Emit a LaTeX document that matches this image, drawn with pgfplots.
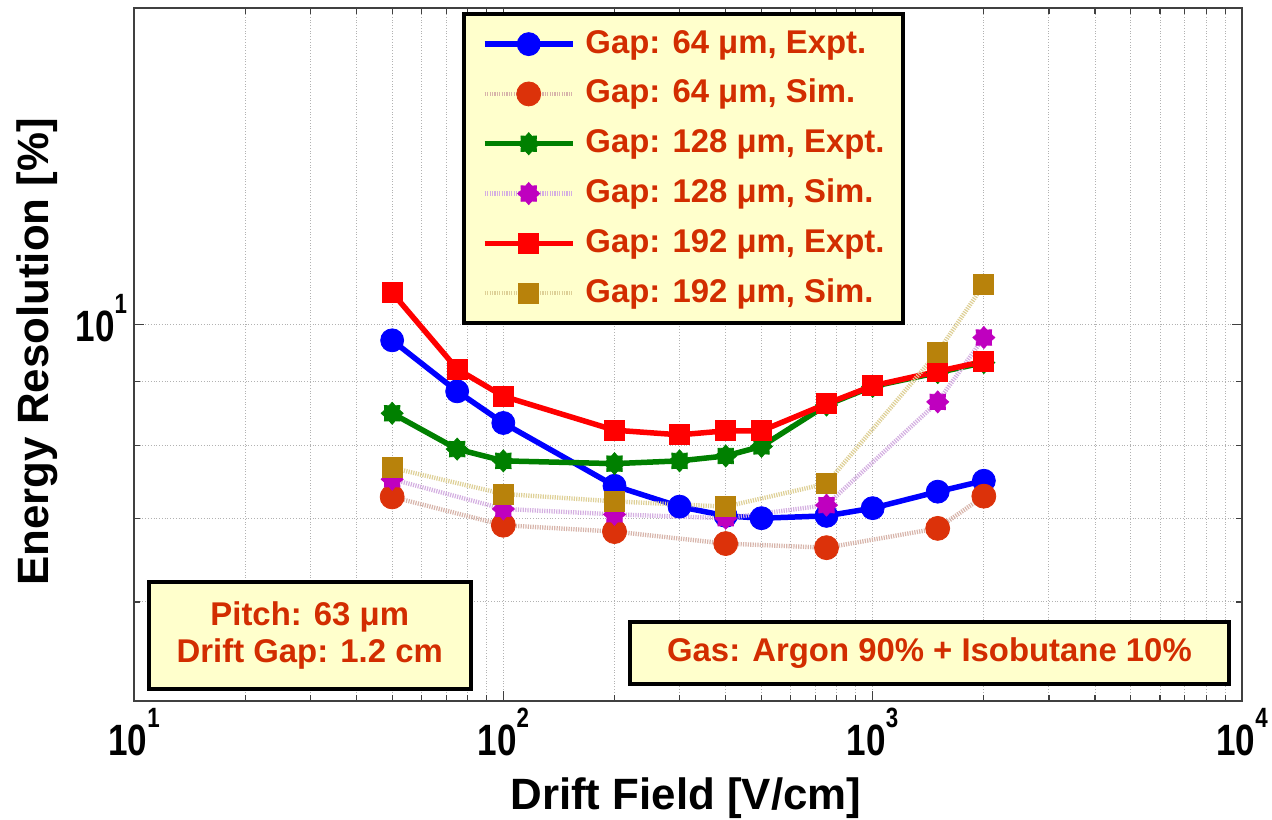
\documentclass[border=0pt]{standalone}
\usepackage{fontspec}
\setmainfont{Liberation Sans}
\newfontfamily\tickfont[FakeStretch=0.8]{Liberation Sans}
\usepackage{pgfplots}
\pgfplotsset{compat=1.18}

\definecolor{cblue}{RGB}{0,0,255}
\definecolor{csim64}{RGB}{220,50,10}
\definecolor{cgreen}{RGB}{0,128,0}
\definecolor{csim128}{RGB}{191,0,191}
\definecolor{cred}{RGB}{255,0,0}
\definecolor{csim192}{RGB}{184,130,11}
\definecolor{lsim64}{RGB}{215,180,170}
\definecolor{lsim128}{RGB}{212,175,225}
\definecolor{lsim192}{RGB}{222,208,150}
\definecolor{boxfill}{RGB}{255,255,204}
\definecolor{labtext}{RGB}{210,45,0}

\newcommand\tl[1]{10\raisebox{14bp}{\fontsize{14}{14}\selectfont #1}}

% 8-point star, like the matlab hexagram markers here
\pgfdeclareplotmark{hexstar}{%
  \pgfpathmoveto{\pgfpointpolar{90}{\pgfplotmarksize}}%
  \foreach \k in {1,...,15}{%
    \pgfmathsetmacro\ang{90+22.5*\k}%
    \pgfmathsetmacro\rr{mod(\k,2)==1 ? 0.74 : 1}%
    \pgfpathlineto{\pgfpointpolar{\ang}{\rr\pgfplotmarksize}}%
  }%
  \pgfpathclose
  \pgfusepathqfillstroke
}

\pgfplotsset{
  expt/.style={line width=2.75bp},
  sim/.style={line width=2.2bp, dash pattern=on 0.6bp off 0.6bp},
}

\begin{document}
\begin{tikzpicture}
\begin{axis}[
  scale only axis, width=554bp, height=346.5bp,
  xmode=log, ymode=log,
  xmin=10, xmax=10000, ymin=5, ymax=17.9,
  xtick={10,100,1000,10000}, xticklabels={\tl{1},\tl{2},\tl{3},\tl{4}},
  minor xtick={20,30,40,50,60,70,80,90,200,300,400,500,600,700,800,900,2000,3000,4000,5000,6000,7000,8000,9000},
  ytick={10}, yticklabels={\tl{1}}, minor ytick={6,7,8,9},
  grid=both,
  major grid style={densely dotted, black!30, line width=0.5bp},
  minor grid style={densely dotted, black!30, line width=0.5bp},
  tick align=inside, major tick length=5bp, minor tick length=3bp,
  axis line style={line width=0.75bp, black!75},
  tick style={line width=0.6bp, black!75},
  ticklabel style={font=\fontsize{22}{24}\tickfont\bfseries},
  yticklabel style={yshift=3bp},
  xlabel={Drift Field [V/cm]}, ylabel={Energy Resolution [\%]},
  label style={font=\fontsize{22}{24}\selectfont\bfseries},
  xlabel style={at={(axis description cs:0.498,-0.157)}, anchor=base},
  ylabel style={at={(axis description cs:-0.0776,0.504)}, anchor=base},
  legend cell align=left,
  legend image code/.code={\draw[mark repeat=2,mark phase=2,#1] plot coordinates {(0bp,0bp) (22bp,0bp) (44bp,0bp)};},
  legend style={at={(rel axis cs:0.296,0.994)}, anchor=north west,
    fill=boxfill, draw=black, line width=2bp,
    font=\fontsize{16.5}{19}\selectfont\bfseries, text=labtext,
    inner xsep=9bp, inner ysep=6.5bp, row sep=7.9bp, column sep=5bp,
    nodes={inner sep=0pt, text height=13bp, text depth=4bp}},
]
\addplot[expt, draw=cblue, mark=*, mark size=5.75bp, mark options={solid, draw=cblue, fill=cblue, line width=0.4bp}]
  coordinates {(50,9.71) (75,8.84) (100,8.34) (200,7.43) (300,7.15) (400,7.03) (500,7.00) (750,7.03) (1000,7.13) (1500,7.35) (2000,7.50)};
\addlegendentry{Gap: 64 μm, Expt.}
\addplot[sim, draw=lsim64, mark=*, mark size=6bp, mark options={solid, draw=csim64, fill=csim64, line width=0.4bp}]
  coordinates {(50,7.28) (100,6.91) (200,6.83) (400,6.68) (750,6.63) (1500,6.87) (2000,7.29)};
\addlegendentry{Gap: 64 μm, Sim.}
\addplot[expt, draw=cgreen, mark=hexstar, mark size=5.5bp, mark options={solid, draw=cgreen, fill=cgreen, line width=0.4bp}]
  coordinates {(50,8.49) (75,7.95) (100,7.78) (200,7.74) (300,7.78) (400,7.85) (500,7.99) (750,8.62) (1000,8.92) (1500,9.15) (2000,9.32)};
\addlegendentry{Gap: 128 μm, Expt.}
\addplot[sim, draw=lsim128, mark=hexstar, mark size=5.5bp, mark options={solid, draw=csim128, fill=csim128, line width=0.4bp}]
  coordinates {(50,7.52) (100,7.12) (200,7.05) (400,7.00) (750,7.17) (1500,8.67) (2000,9.76)};
\addlegendentry{Gap: 128 μm, Sim.}
\addplot[expt, draw=cred, mark=square*, mark size=5bp, mark options={solid, draw=cred, fill=cred, line width=0.4bp}]
  coordinates {(50,10.6) (75,9.21) (100,8.76) (200,8.23) (300,8.16) (400,8.22) (500,8.22) (750,8.64) (1000,8.93) (1500,9.17) (2000,9.34)};
\addlegendentry{Gap: 192 μm, Expt.}
\addplot[sim, draw=lsim192, mark=square*, mark size=5bp, mark options={solid, draw=csim192, fill=csim192, line width=0.4bp}]
  coordinates {(50,7.68) (100,7.32) (200,7.22) (400,7.15) (750,7.46) (1500,9.50) (2000,10.76)};
\addlegendentry{Gap: 192 μm, Sim.}

\node[draw=black, line width=2bp, fill=boxfill, text=labtext, align=center,
  font=\fontsize{16.5}{19}\selectfont\bfseries,
  minimum width=161bp, minimum height=53.5bp, anchor=south west]
  at (rel axis cs:0.0115,0.0145) {Pitch: 63 μm\\Drift Gap: 1.2 cm};
\node[draw=black, line width=2bp, fill=boxfill, text=labtext, align=center,
  font=\fontsize{16.5}{19}\selectfont\bfseries,
  minimum width=299.5bp, minimum height=31bp, anchor=south west]
  at (rel axis cs:0.4458,0.0217) {Gas: Argon 90\% + Isobutane 10\%};
\end{axis}
\pgfresetboundingbox
\path ([shift={(-67bp,-59.5bp)}]current axis.south west) rectangle ([shift={(15bp,4bp)}]current axis.north east);
\end{tikzpicture}
\end{document}
